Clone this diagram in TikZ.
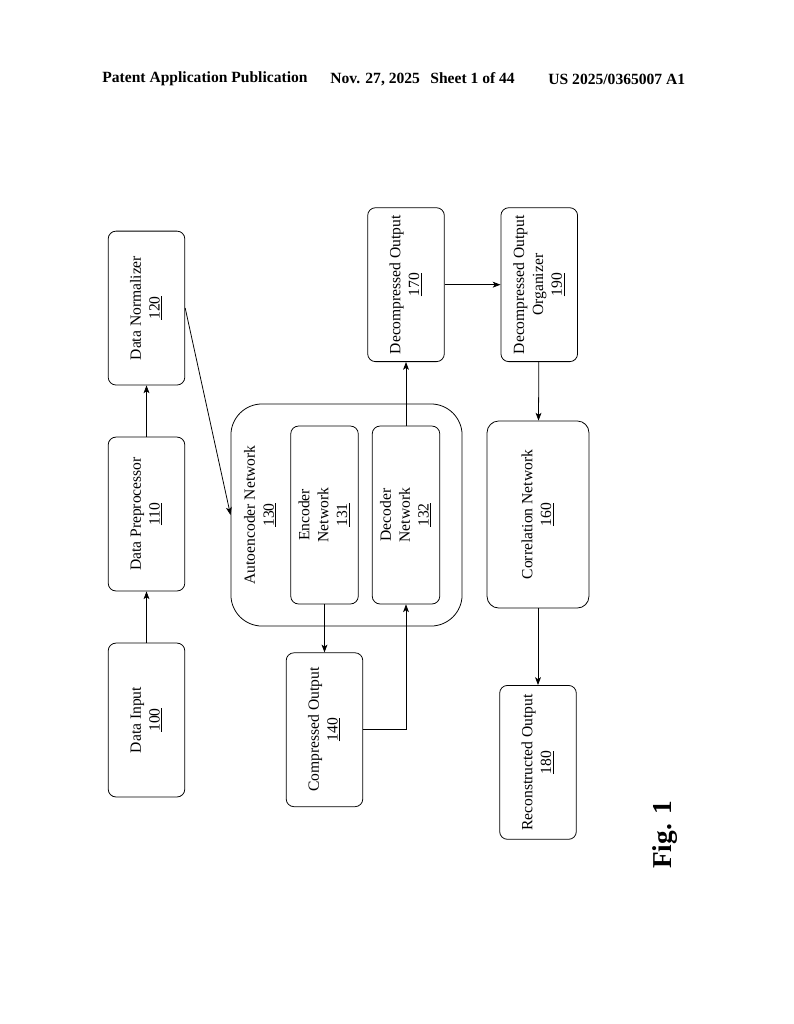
\documentclass[tikz,border=0pt]{standalone}
\usepackage{fontspec}
\setmainfont{Liberation Serif}
\usepackage{graphicx}
\usetikzlibrary{arrows.meta, shapes, positioning, calc}

\newcommand{\blocktext}[2]{\rotatebox{90}{\begin{tabular}{@{}c@{}}#1\\\underline{#2}\end{tabular}}}

\begin{document}
\begin{tikzpicture}
            [->, >={Stealth[length=6pt, width=4.5pt, inset=1.5pt]}, x=0.77pt, y=-0.77pt, semithick,
            every node/.style={font=\fontsize{12}{14.5}\selectfont},
            block/.style={rectangle, rounded corners=6pt, draw=black, align=center, inner sep=0pt, minimum width=59pt, minimum height=118.5pt},
            subblock/.style={block, minimum width=52pt, minimum height=137pt},
            outer/.style={block, rounded corners=24pt, minimum width=178pt, minimum height=171pt},
            header/.style={anchor=west, inner sep=0pt, font=\fontsize{12}{14}\selectfont\bfseries}]

            \useasboundingbox (0,0) rectangle (794,1024);

            \node[header] (pub) at (102,79) {Patent Application Publication};
            \node[header] (sheet) at (330,79) {Nov. 27, 2025\hspace{8pt}Sheet 1 of 44};
            \node[header] (num) at (548,79) {US 2025/0365007 A1};

            \node[block] (n100) at (146.5,720) {\blocktext{Data Input}{100}};
            \node[block] (n110) [above=39.5pt of n100] {\blocktext{Data Preprocessor}{110}};
            \node[block] (n120) [above=39.5pt of n110] {\blocktext{Data Normalizer}{120}};

            \node[outer, label={[anchor=west, xshift=5pt]west:\blocktext{Autoencoder Network}{130}}] (n130) at (346.5,515) {};
            \node[subblock] (n131) at (324.5,515) {\blocktext{Encoder\\Network}{131}};
            \node[subblock] (n132) at (406,515) {\blocktext{Decoder\\Network}{132}};
            \node[block] (n140) [below=37pt of n131] {\blocktext{Compressed Output}{140}};

            \node[block] (n170) [above=49pt of n132] {\blocktext{Decompressed Output}{170}};
            \node[block] (n190) [right=43pt of n170] {\blocktext{Decompressed Output\\Organizer}{190}};
            \node[block, rounded corners=9pt, minimum width=78.5pt, minimum height=144pt] (n160) at (538,514.5) {\blocktext{Correlation Network}{160}};
            \node[block] (n180) [below=59pt of n160] {\blocktext{Reconstructed Output}{180}};

            \node[font=\fontsize{21}{25}\selectfont\bfseries, rotate=90] (fig) at (665,835) {Fig. 1};

            \draw (n100) -- (n110);
            \draw (n110) -- (n120);
            \draw (n120.east) -- (n130.west);
            \draw (n131) -- (n140);
            \draw (n140.east) -| (n132.south);
            \draw (n132) -- (n170);
            \draw (n170) -- (n190);
            \draw (n190) -- (n160);
            \draw (n160) -- (n180);

        \end{tikzpicture}
\end{document}
